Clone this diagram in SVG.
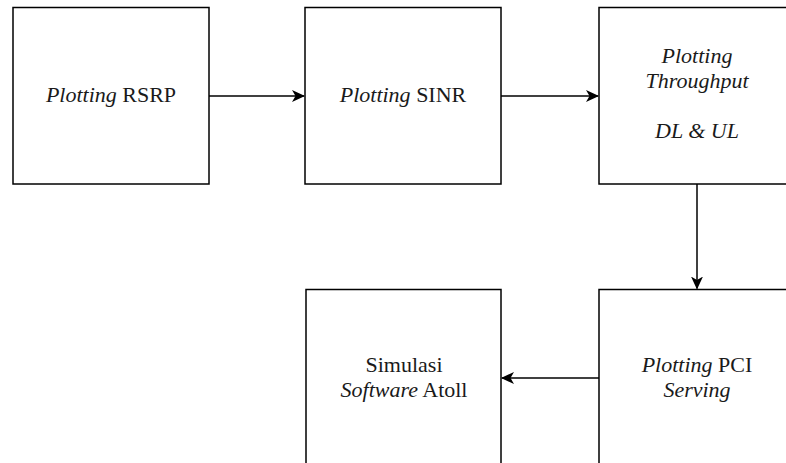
<svg xmlns="http://www.w3.org/2000/svg" width="786" height="463" viewBox="0 0 786 463">
  <style>
    .box { fill: #ffffff; stroke: #000000; stroke-width: 1.5; }
    .edge { fill: none; stroke: #000000; stroke-width: 1.5; }
    .it { font-style: italic; }
  </style>
  <defs>
    <marker id="arrowhead" viewBox="0 0 13 12" refX="12" refY="6" markerWidth="13" markerHeight="12" markerUnits="userSpaceOnUse" orient="auto">
      <path d="M0,0 L13,6 L0,12 L3.5,6 Z" fill="#000000"/>
    </marker>
  </defs>
  <rect width="786" height="463" fill="#ffffff"/>

  <g id="connectors">
    <line class="edge" x1="209" y1="96" x2="304" y2="96" marker-end="url(#arrowhead)"/>
    <line class="edge" x1="501" y1="96" x2="598" y2="96" marker-end="url(#arrowhead)"/>
    <line class="edge" x1="697" y1="184" x2="697" y2="288.5" marker-end="url(#arrowhead)"/>
    <line class="edge" x1="599" y1="378" x2="502" y2="378" marker-end="url(#arrowhead)"/>
  </g>

  <g font-family="Liberation Serif, DejaVu Serif, serif" font-size="22" fill="#1a1a1a" text-anchor="middle">
    <g id="node-rsrp">
      <rect class="box" x="13" y="7.5" width="196" height="176.5"/>
      <text x="111" y="102"><tspan class="it">Plotting</tspan> RSRP</text>
    </g>

    <g id="node-sinr">
      <rect class="box" x="305" y="7.5" width="196" height="176.5"/>
      <text x="403" y="102"><tspan class="it">Plotting</tspan> SINR</text>
    </g>

    <g id="node-throughput">
      <rect class="box" x="599" y="7.5" width="196" height="176.5"/>
      <text class="it" x="697" y="63">Plotting</text>
      <text class="it" x="697" y="88">Throughput</text>
      <text class="it" x="697" y="138">DL &amp; UL</text>
    </g>

    <g id="node-pci">
      <rect class="box" x="599" y="289.5" width="196" height="176.5"/>
      <text x="697" y="372"><tspan class="it">Plotting</tspan> PCI</text>
      <text class="it" x="697" y="397">Serving</text>
    </g>

    <g id="node-atoll">
      <rect class="box" x="306" y="289.5" width="195" height="176.5"/>
      <text x="404" y="372">Simulasi</text>
      <text x="404" y="397"><tspan class="it">Software</tspan> Atoll</text>
    </g>
  </g>
</svg>
